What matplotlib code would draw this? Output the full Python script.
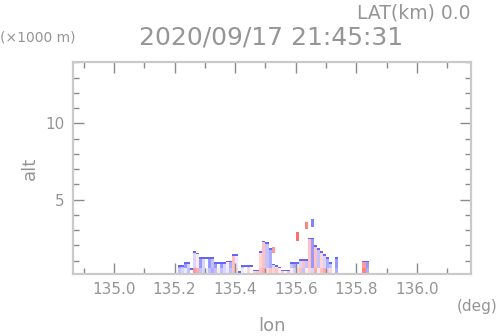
import matplotlib
matplotlib.use("Agg")
import matplotlib.pyplot as plt
from matplotlib.colors import LinearSegmentedColormap
import numpy as np

# echo columns, 0.01 deg wide, starting at 135.20
lon_start = 135.20
lon_step = 0.01
col_top = [0.0, 0.7, 0.7, 0.93, 0.93, 0.5, 1.65, 1.5, 1.17, 1.25,
           1.25, 1.25, 1.25, 0.93, 0.93, 0.86, 0.9, 1.04, 1.04, 1.43,
           1.43, 0.3, 0.71, 0.71, 0.71, 0.71, 0.45, 0.45, 1.58, 2.3,
           2.2, 1.83, 0.84, 0.7, 0.58, 0.43, 0.43, 0.43, 0.93, 0.93,
           0.93, 1.15, 1.15, 1.15, 2.47, 2.53, 2.0, 1.8, 1.58, 1.37,
           1.2, 0.93, 0.0, 1.17, 0.0, 0.0, 0.0, 0.0, 0.0, 0.0,
           0.0, 0.0, 0.97, 0.97]
col_low = [0.0, -0.3, -0.2, -0.1, -0.3, 0.0, 0.5, 0.4, -0.3, -0.2,
           -0.1, -0.3, -0.4, -0.3, 0.1, -0.3, -0.2, -0.1, -0.3, 0.3,
           0.2, 0.0, -0.1, 0.0, 0.2, 0.0, 0.2, 0.3, 0.3, 0.4,
           0.2, 0.3, 0.2, 0.3, 0.1, 0.2, 0.0, 0.3, 0.1, -0.2,
           0.2, 0.3, -0.3, 0.1, 0.2, -0.2, 0.4, 0.1, 0.3, 0.4,
           -0.2, 0.2, 0.0, -0.4, 0.0, 0.0, 0.0, 0.0, 0.0, 0.0,
           0.0, 0.0, 0.6, -0.4]
col_high = [0.0, -0.5, -0.3, -0.5, -0.2, -0.3, -0.2, 0.1, -0.5, -0.2,
            0.0, -0.5, -0.3, -0.5, 0.0, -0.5, -0.2, 0.1, -0.4, 0.3,
            -0.1, 0.0, -0.3, 0.0, -0.2, 0.0, 0.1, 0.0, 0.2, 0.3,
            -0.3, -0.4, -0.2, 0.1, 0.0, 0.2, -0.1, 0.1, -0.3, -0.4,
            0.1, -0.2, 0.3, -0.3, 0.3, -0.5, 0.3, -0.3, 0.2, -0.2,
            -0.4, -0.3, 0.0, -0.5, 0.0, 0.0, 0.0, 0.0, 0.0, 0.0,
            0.0, 0.0, 0.5, -0.5]

# detached small echoes aloft
blob_lon = [135.525, 135.605, 135.640, 135.650]
blob_bot = [1.5, 2.35, 3.1, 3.2]
blob_top = [1.9, 2.9, 3.5, 3.75]
blob_val = [0.5, 0.7, 0.6, -0.6]

EDGE = -0.75

n = len(col_top)
lon_edges = lon_start + lon_step * np.arange(n + 1)
z_edges = np.arange(0.0, 4.01, 0.1)
z_mid = 0.5 * (z_edges[:-1] + z_edges[1:])

field = np.full((len(z_mid), n), np.nan)
for i in range(n):
    if col_top[i] <= 0:
        continue
    filled = np.where(z_mid < col_top[i])[0]
    for k in filled:
        field[k, i] = col_low[i] if z_mid[k] < 0.5 else col_high[i]
    field[filled[-1], i] = EDGE   # blue rim on the echo top

for lo, b, t, v in zip(blob_lon, blob_bot, blob_top, blob_val):
    i = int((lo - lon_start) / lon_step)
    field[(z_mid > b) & (z_mid < t), i] = v

cmap = LinearSegmentedColormap.from_list('rb', ['#5a5aff', '#ffffff', '#ff5a5a'])
grey = '#959595'

fig = plt.figure(figsize=(4.98, 3.36), dpi=100)
ax = fig.add_axes([0.1466, 0.186, 0.7992, 0.6286])
ax.pcolormesh(lon_edges, z_edges, np.ma.masked_invalid(field), cmap=cmap,
              vmin=-0.8, vmax=0.8, shading='flat')

ax.set_xlim(134.865, 136.178)
ax.set_ylim(0.15, 14.0)
ax.set_xticks([135.0, 135.2, 135.4, 135.6, 135.8, 136.0])
ax.set_xticks(np.arange(134.9, 136.2, 0.1), minor=True)
ax.set_yticks([5, 10])
ax.set_yticks(range(1, 15), minor=True)
ax.set_yticklabels(['5', '10'])
ax.tick_params(which='both', direction='in', top=True, right=True,
               colors='#8a8a8a', labelcolor=grey, labelsize=11, width=1)
ax.tick_params(which='major', length=8, pad=6)
ax.tick_params(which='minor', length=4)
for s in ax.spines.values():
    s.set_color('#cacaca')
    s.set_linewidth(1.6)

fig.text(0.944, 0.961, 'LAT(km) 0.0', ha='right', va='center', color=grey, fontsize=13.5)
fig.text(0.545, 0.887, '2020/09/17 21:45:31', ha='center', va='center', color=grey, fontsize=18)
fig.text(0.0, 0.887, '(\u00d71000 m)', ha='left', va='center', color=grey, fontsize=10)
fig.text(0.998, 0.087, '(deg)', ha='right', va='center', color=grey, fontsize=11)
fig.text(0.546, 0.03, 'lon', ha='center', va='center', color=grey, fontsize=13)
fig.text(0.06, 0.50, 'alt', ha='center', va='center', color=grey, fontsize=13, rotation=90)

fig.savefig('out.png', dpi=100)
